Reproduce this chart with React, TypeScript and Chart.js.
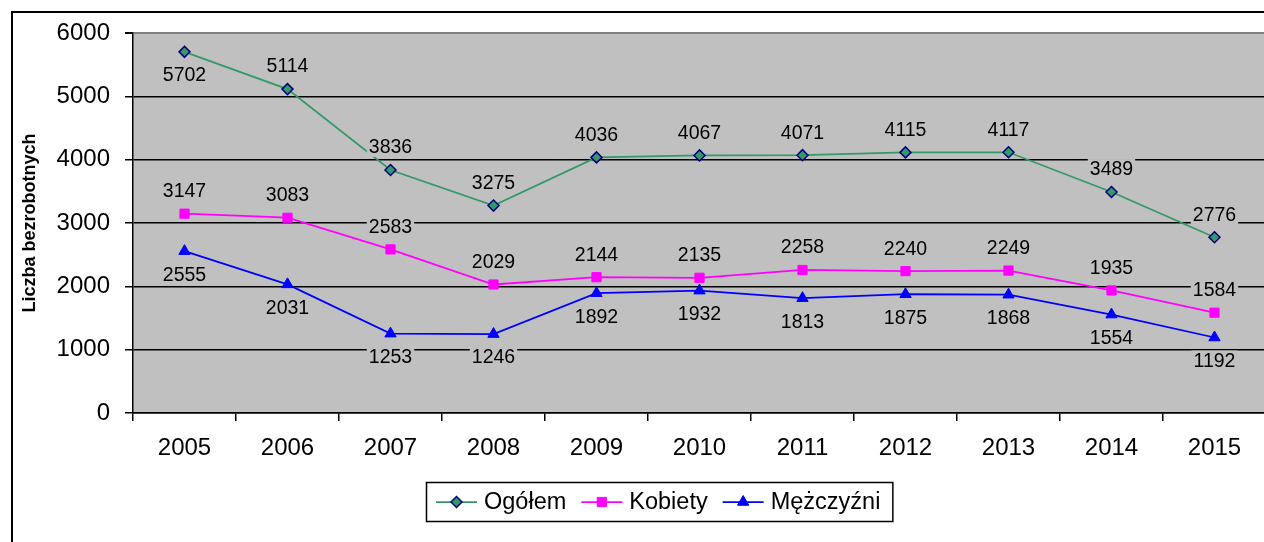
import React, { useEffect, useRef } from "react";
import { Chart, registerables } from "chart.js";
import { drawPoint } from "chart.js/helpers";

Chart.register(...registerables);

const FONT = "'Liberation Sans', Arial, sans-serif";

const years = ["2005", "2006", "2007", "2008", "2009", "2010", "2011", "2012", "2013", "2014", "2015"];
const ogolem = [5702, 5114, 3836, 3275, 4036, 4067, 4071, 4115, 4117, 3489, 2776];
const kobiety = [3147, 3083, 2583, 2029, 2144, 2135, 2258, 2240, 2249, 1935, 1584];
const mezczyzni = [2555, 2031, 1253, 1246, 1892, 1932, 1813, 1875, 1868, 1554, 1192];

const yMin = 0;
const yMax = 6000;
const yStep = 1000;

const seriesNames = ["Ogółem", "Kobiety", "Mężczyźni"];
const axisTitle = "Liczba bezrobotnych";

// label side per point: "above" | "below"
const ogolemLabelSide = ["below", "above", "above", "above", "above", "above", "above", "above", "above", "above", "above"];
const kobietyLabelSide = ["above", "above", "above", "above", "above", "above", "above", "above", "above", "above", "above"];
const mezczyzniLabelSide = ["below", "below", "below", "below", "below", "below", "below", "below", "below", "below", "below"];

const labelSides = [ogolemLabelSide, kobietyLabelSide, mezczyzniLabelSide];

const PLOT_BG = "#C0C0C0";

const bgPlugin = {
  id: "plotBg",
  beforeDraw(chart: any) {
    const { ctx, chartArea: a } = chart;
    ctx.save();
    ctx.fillStyle = PLOT_BG;
    ctx.fillRect(a.left, a.top, a.right - a.left, a.bottom - a.top);
    ctx.restore();
  },
};

const labelPlugin = {
  id: "valueLabels",
  afterDatasetsDraw(chart: any) {
    const ctx = chart.ctx;
    ctx.save();
    ctx.font = `19.5px ${FONT}`;
    ctx.textAlign = "center";
    ctx.textBaseline = "middle";
    chart.data.datasets.forEach((ds: any, i: number) => {
      const meta = chart.getDatasetMeta(i);
      const sides = labelSides[i];
      meta.data.forEach((pt: any, j: number) => {
        const text = String(ds.data[j]);
        const w = ctx.measureText(text).width;
        const cy = pt.y + (sides[j] === "above" ? -23 : 23);
        ctx.fillStyle = PLOT_BG;
        ctx.fillRect(pt.x - w / 2 - 2, cy - 10, w + 4, 20);
        ctx.fillStyle = "#000";
        ctx.fillText(text, pt.x, cy + 1);
      });
    });
    ctx.restore();
  },
};

const legendPlugin = {
  id: "boxLegend",
  afterDraw(chart: any) {
    const ctx = chart.ctx;
    ctx.save();
    ctx.font = `23.5px ${FONT}`;
    const items = chart.data.datasets.map((ds: any) => ({ ds, w: ctx.measureText(ds.label).width }));
    const lineLen = 41, gapText = 7, gapItem = 15, padL = 10, padR = 12;
    const total =
      padL + padR +
      items.reduce((s: number, it: any) => s + lineLen + gapText + it.w, 0) +
      gapItem * (items.length - 1);
    const left = Math.round(chart.width / 2 - total / 2);
    const top = Math.round(chart.chartArea.bottom + 69);
    const h = 39;
    ctx.strokeStyle = "#000";
    ctx.lineWidth = 1.5;
    ctx.strokeRect(left + 0.5, top + 0.5, total, h);
    let x = left + padL;
    const cy = top + h / 2 + 0.5;
    items.forEach(({ ds, w }: any) => {
      ctx.strokeStyle = ds.borderColor;
      ctx.lineWidth = ds.borderWidth;
      ctx.beginPath();
      ctx.moveTo(x, cy);
      ctx.lineTo(x + lineLen, cy);
      ctx.stroke();
      ctx.fillStyle = ds.pointBackgroundColor;
      ctx.strokeStyle = ds.pointBorderColor;
      ctx.lineWidth = ds.pointBorderWidth;
      drawPoint(ctx, { pointStyle: ds.pointStyle, rotation: 0, radius: ds.pointRadius, borderWidth: ds.pointBorderWidth }, x + lineLen / 2, cy);
      ctx.fillStyle = "#000";
      ctx.textAlign = "left";
      ctx.textBaseline = "middle";
      ctx.fillText(ds.label, x + lineLen + gapText, cy + 1);
      x += lineLen + gapText + w + gapItem;
    });
    ctx.restore();
  },
};

export default function App() {
  const ref = useRef<HTMLCanvasElement | null>(null);

  useEffect(() => {
    if (!ref.current) return;
    const chart = new Chart(ref.current, {
      type: "line",
      data: {
        labels: years,
        datasets: [
          {
            label: seriesNames[0],
            data: ogolem,
            borderColor: "#339966",
            borderWidth: 1.75,
            pointStyle: "rectRot",
            pointRadius: 5.5,
            pointBackgroundColor: "#339966",
            pointBorderColor: "#000080",
            pointBorderWidth: 1.5,
            tension: 0,
          },
          {
            label: seriesNames[1],
            data: kobiety,
            borderColor: "#FF00FF",
            borderWidth: 1.75,
            pointStyle: "rect",
            pointRadius: 6.5,
            pointBackgroundColor: "#FF00FF",
            pointBorderColor: "#FF00FF",
            pointBorderWidth: 1,
            tension: 0,
          },
          {
            label: seriesNames[2],
            data: mezczyzni,
            borderColor: "#0000FF",
            borderWidth: 1.75,
            pointStyle: "triangle",
            pointRadius: 6.5,
            pointBackgroundColor: "#0000FF",
            pointBorderColor: "#0000FF",
            pointBorderWidth: 1,
            tension: 0,
          },
        ],
      },
      options: {
        responsive: false,
        animation: false,
        devicePixelRatio: 1,
        layout: { padding: { left: 0, top: 20, right: 39, bottom: 100 } },
        plugins: {
          legend: { display: false },
          tooltip: { enabled: false },
        },
        scales: {
          x: {
            type: "category",
            offset: true,
            grid: {
              offset: true,
              drawOnChartArea: false,
              drawTicks: true,
              tickLength: 8,
              color: "#000",
              lineWidth: 1.5,
            },
            border: { display: true, color: "#000", width: 1.5 },
            ticks: {
              color: "#000",
              font: { family: FONT, size: 24 },
              padding: 13,
              maxRotation: 0,
              autoSkip: false,
            },
            afterFit(scale: any) {
              scale.height = 60;
              scale.paddingLeft = 0;
              scale.paddingRight = 0;
            },
          },
          y: {
            min: yMin,
            max: yMax,
            grid: {
              drawTicks: true,
              tickLength: 8,
              color: (c: any) => (c.tick && c.tick.value === yMax ? "#808080" : "#000"),
              tickColor: "#000",
              lineWidth: (c: any) => (c.tick && c.tick.value === yMax ? 2 : 1.5),
            },
            border: { display: true, color: "#000", width: 1.5 },
            ticks: {
              stepSize: yStep,
              color: "#000",
              font: { family: FONT, size: 24 },
              padding: 15,
              callback: (v: any) => String(v),
            },
            title: {
              display: true,
              text: axisTitle,
              color: "#000",
              font: { family: FONT, size: 18, weight: "bold" },
              padding: { top: 6, bottom: 0 },
            },
            afterFit(scale: any) {
              scale.width = 120;
              scale.paddingTop = 0;
              scale.paddingBottom = 0;
            },
          },
        },
      },
      plugins: [bgPlugin, labelPlugin, legendPlugin],
    } as any);
    return () => chart.destroy();
  }, []);

  return (
    <div
      style={{
        position: "fixed",
        left: 0,
        top: 0,
        width: 1264,
        height: 542,
        overflow: "hidden",
        background: "#fff",
      }}
    >
      <div
        style={{
          position: "absolute",
          left: 11,
          top: 11,
          border: "2px solid #000",
          width: 1292,
          height: 560,
        }}
      >
        <canvas ref={ref} width={1292} height={560} style={{ display: "block" }} />
      </div>
    </div>
  );
}
